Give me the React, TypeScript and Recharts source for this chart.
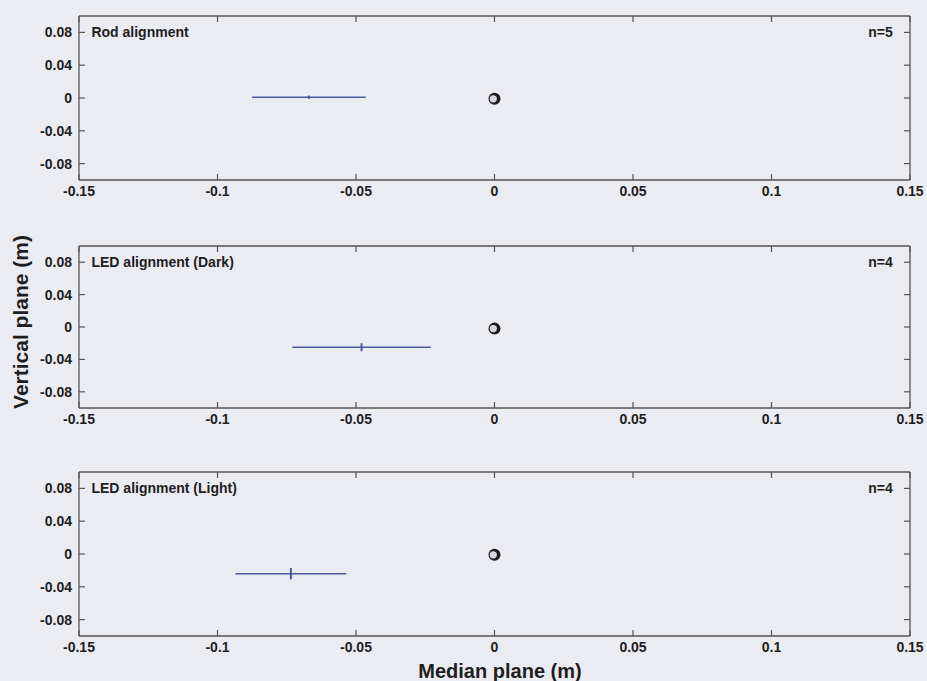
import {
  ScatterChart,
  Scatter,
  XAxis,
  YAxis,
  ErrorBar,
  ReferenceDot
} from "recharts";

// panel texts
const panelTitles = ["Rod alignment", "LED alignment (Dark)", "LED alignment (Light)"];
const panelCounts = ["n=5", "n=4", "n=4"];

// mean position of each condition (m) with spread
const meanX = [-0.067, -0.048, -0.0735];
const meanY = [0.001, -0.025, -0.024];
const errX = [0.0205, 0.025, 0.02];
const errY = [0.002, 0.005, 0.007];

// target position
const targetX = [0, 0, 0];
const targetY = [-0.001, -0.002, -0.001];

// axes
const xTicks = [-0.15, -0.1, -0.05, 0, 0.05, 0.1, 0.15];
const xTickLabels = ["-0.15", "-0.1", "-0.05", "0", "0.05", "0.1", "0.15"];
const yTicks = [-0.08, -0.04, 0, 0.04, 0.08];
const yTickLabels = ["-0.08", "-0.04", "0", "0.04", "0.08"];

// plot area top / bottom of each panel (px)
const panelTop = [16, 246, 472];
const panelBottom = [180, 408, 636];

const BG = "#ebebf2";
const AXIS = "#555";
const TEXT = "#1e1e1e";
const LINE = "#4b5a9c";
const FONT = "'Liberation Sans', Arial, sans-serif";

const TICK_LEN = 6;

function BottomTick(props: any) {
  const { x, y, index } = props;
  return (
    <g>
      <line x1={x} y1={y} x2={x} y2={y - TICK_LEN} stroke={AXIS} strokeWidth={1.2} />
      <text
        x={x}
        y={y + 16}
        textAnchor="middle"
        fontSize={14}
        fontWeight="bold"
        fontFamily={FONT}
        fill={TEXT}
      >
        {xTickLabels[index]}
      </text>
    </g>
  );
}

function TopTick(props: any) {
  const { x, y } = props;
  return <line x1={x} y1={y} x2={x} y2={y + TICK_LEN} stroke={AXIS} strokeWidth={1.2} />;
}

function LeftTick(props: any) {
  const { x, y, index } = props;
  return (
    <g>
      <line x1={x} y1={y} x2={x + TICK_LEN} y2={y} stroke={AXIS} strokeWidth={1.2} />
      <text
        x={x - 7}
        y={y + 5}
        textAnchor="end"
        fontSize={14}
        fontWeight="bold"
        fontFamily={FONT}
        fill={TEXT}
      >
        {yTickLabels[index]}
      </text>
    </g>
  );
}

function RightTick(props: any) {
  const { x, y } = props;
  return <line x1={x} y1={y} x2={x - TICK_LEN} y2={y} stroke={AXIS} strokeWidth={1.2} />;
}

// black ring with a light crescent, like the scanned marker
function TargetMarker(props: any) {
  const { cx, cy } = props;
  return (
    <g>
      <circle cx={cx} cy={cy} r={6} fill="#1a1a1a" />
      <circle cx={cx - 1.2} cy={cy} r={3.6} fill="#d8d8e0" />
    </g>
  );
}

function Panel({ i }: { i: number }) {
  const top = panelTop[i];
  const plotH = panelBottom[i] - panelTop[i];
  const marginTop = 9;
  const topAxisH = 1;
  const bottomAxisH = 25;
  const data = [{ x: meanX[i], y: meanY[i], ex: errX[i], ey: errY[i] }];
  const target = [{ x: targetX[i], y: targetY[i] }];

  return (
    <div style={{ position: "absolute", left: 0, top: top - marginTop - topAxisH }}>
      <ScatterChart
        width={927}
        height={marginTop + topAxisH + plotH + bottomAxisH}
        margin={{ top: marginTop, right: 16, bottom: 0, left: 9 }}
      >
        <XAxis
          xAxisId="b"
          type="number"
          dataKey="x"
          domain={[-0.15, 0.15]}
          ticks={xTicks}
          interval={0}
          allowDataOverflow
          height={bottomAxisH}
          tickSize={0}
          tickMargin={0}
          tickLine={false}
          axisLine={{ stroke: AXIS, strokeWidth: 1.3 }}
          tick={<BottomTick />}
        />
        <XAxis
          xAxisId="t"
          orientation="top"
          type="number"
          dataKey="x"
          domain={[-0.15, 0.15]}
          ticks={xTicks}
          interval={0}
          allowDataOverflow
          height={topAxisH}
          tickSize={0}
          tickMargin={0}
          tickLine={false}
          axisLine={{ stroke: AXIS, strokeWidth: 1.3 }}
          tick={<TopTick />}
        />
        <YAxis
          yAxisId="l"
          type="number"
          dataKey="y"
          domain={[-0.1, 0.1]}
          ticks={yTicks}
          interval={0}
          allowDataOverflow
          width={70}
          tickSize={0}
          tickMargin={0}
          tickLine={false}
          axisLine={{ stroke: AXIS, strokeWidth: 1.3 }}
          tick={<LeftTick />}
        />
        <YAxis
          yAxisId="r"
          orientation="right"
          type="number"
          dataKey="y"
          domain={[-0.1, 0.1]}
          ticks={yTicks}
          interval={0}
          allowDataOverflow
          width={1}
          tickSize={0}
          tickMargin={0}
          tickLine={false}
          axisLine={{ stroke: AXIS, strokeWidth: 1.3 }}
          tick={<RightTick />}
        />

        <Scatter
          xAxisId="b"
          yAxisId="l"
          data={data}
          isAnimationActive={false}
          shape={() => <g />}
        >
          <ErrorBar
            dataKey="ex"
            direction="x"
            width={0}
            stroke={LINE}
            strokeWidth={1.6}
            isAnimationActive={false}
          />
          <ErrorBar
            dataKey="ey"
            direction="y"
            width={0}
            stroke={LINE}
            strokeWidth={2}
            isAnimationActive={false}
          />
        </Scatter>

        <Scatter
          xAxisId="b"
          yAxisId="l"
          data={target}
          isAnimationActive={false}
          shape={<TargetMarker />}
        />

        <ReferenceDot
          xAxisId="b"
          yAxisId="l"
          x={-0.1455}
          y={0.08}
          r={0}
          ifOverflow="visible"
          shape={(p: any) => (
            <text
              x={p.cx}
              y={p.cy + 5}
              fontSize={14}
              fontWeight="bold"
              fontFamily={FONT}
              fill={TEXT}
            >
              {panelTitles[i]}
            </text>
          )}
        />
        <ReferenceDot
          xAxisId="b"
          yAxisId="l"
          x={0.1438}
          y={0.08}
          r={0}
          ifOverflow="visible"
          shape={(p: any) => (
            <text
              x={p.cx}
              y={p.cy + 5}
              textAnchor="end"
              fontSize={14}
              fontWeight="bold"
              fontFamily={FONT}
              fill={TEXT}
            >
              {panelCounts[i]}
            </text>
          )}
        />
      </ScatterChart>
    </div>
  );
}

export default function App() {
  return (
    <div
      style={{
        position: "absolute",
        left: 0,
        top: 0,
        width: 927,
        height: 681,
        background: BG,
        overflow: "hidden"
      }}
    >
      {[0, 1, 2].map((i) => (
        <Panel key={i} i={i} />
      ))}

      {/* shared axis titles */}
      <svg
        width={927}
        height={681}
        style={{ position: "absolute", left: 0, top: 0, pointerEvents: "none" }}
      >
        <text
          x={28}
          y={322}
          transform="rotate(-90 28 322)"
          textAnchor="middle"
          fontSize={21}
          fontWeight="bold"
          fontFamily={FONT}
          fill={TEXT}
        >
          Vertical plane (m)
        </text>
        <text
          x={500}
          y={678}
          textAnchor="middle"
          fontSize={20}
          fontWeight="bold"
          fontFamily={FONT}
          fill={TEXT}
        >
          Median plane (m)
        </text>
      </svg>
    </div>
  );
}
